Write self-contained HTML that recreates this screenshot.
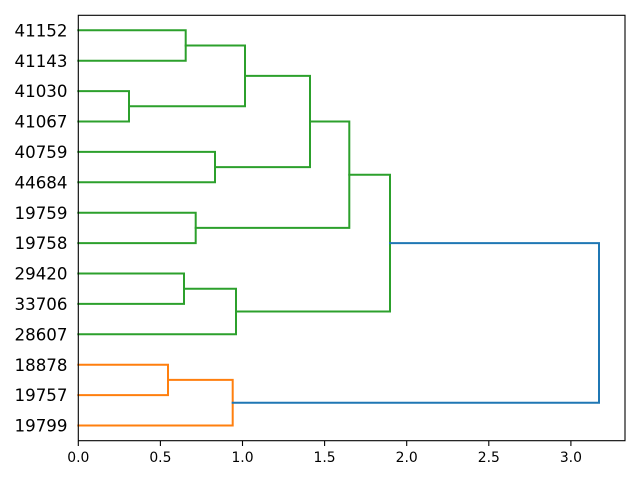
<!DOCTYPE html>
<html><head><meta charset="utf-8"><style>
html,body{margin:0;padding:0;background:#fff;}
svg{display:block;}
text{font-family:"DejaVu Sans","Liberation Sans",sans-serif;fill:#000;}
</style></head><body>
<svg width="640" height="480" viewBox="0 0 640 480" xmlns="http://www.w3.org/2000/svg">
<rect width="640" height="480" fill="#fff"/>
<g fill="none" stroke-width="2" stroke-linejoin="miter" stroke-linecap="square">
<g stroke="#2ca02c">
<path d="M78.3 30.3H185.7V60.7H78.3"/>
<path d="M78.3 91.1H129V121.5H78.3"/>
<path d="M185.7 45.5H245V106.3H129"/>
<path d="M78.3 151.9H215V182.3H78.3"/>
<path d="M245 75.9H310V167.1H215"/>
<path d="M78.3 212.7H195.7V243.1H78.3"/>
<path d="M310 121.5H349.3V227.9H195.7"/>
<path d="M78.3 273.5H184V303.9H78.3"/>
<path d="M184 288.7H236V334.3H78.3"/>
<path d="M349.3 174.7H390V311.5H236"/>
</g>
<g stroke="#ff7f0e">
<path d="M78.3 364.7H168V395.1H78.3"/>
<path d="M168 379.9H232.7V425.5H78.3"/>
</g>
<g stroke="#1f77b4">
<path d="M390 243.1H599V402.7H232.7"/>
</g>
</g>
<rect x="78.3" y="15.3" width="546.7" height="425.4" fill="none" stroke="#000" stroke-width="1.1"/>
<g stroke="#000" stroke-width="1.1">
<line x1="78.3" y1="441" x2="78.3" y2="446"/>
<line x1="160.4" y1="441" x2="160.4" y2="446"/>
<line x1="242.5" y1="441" x2="242.5" y2="446"/>
<line x1="324.6" y1="441" x2="324.6" y2="446"/>
<line x1="406.7" y1="441" x2="406.7" y2="446"/>
<line x1="488.8" y1="441" x2="488.8" y2="446"/>
<line x1="570.9" y1="441" x2="570.9" y2="446"/>
</g>
<g font-size="13.9" text-anchor="middle">
<text x="78.3" y="462">0.0</text>
<text x="160.4" y="462">0.5</text>
<text x="242.5" y="462">1.0</text>
<text x="324.6" y="462">1.5</text>
<text x="406.7" y="462">2.0</text>
<text x="488.8" y="462">2.5</text>
<text x="570.9" y="462">3.0</text>
</g>
<g font-size="16.67" text-anchor="end">
<text x="67.5" y="36.4">41152</text>
<text x="67.5" y="66.8">41143</text>
<text x="67.5" y="97.2">41030</text>
<text x="67.5" y="127.6">41067</text>
<text x="67.5" y="158">40759</text>
<text x="67.5" y="188.4">44684</text>
<text x="67.5" y="218.8">19759</text>
<text x="67.5" y="249.2">19758</text>
<text x="67.5" y="279.6">29420</text>
<text x="67.5" y="310">33706</text>
<text x="67.5" y="340.4">28607</text>
<text x="67.5" y="370.8">18878</text>
<text x="67.5" y="401.2">19757</text>
<text x="67.5" y="431.6">19799</text>
</g>
</svg>
</body></html>
